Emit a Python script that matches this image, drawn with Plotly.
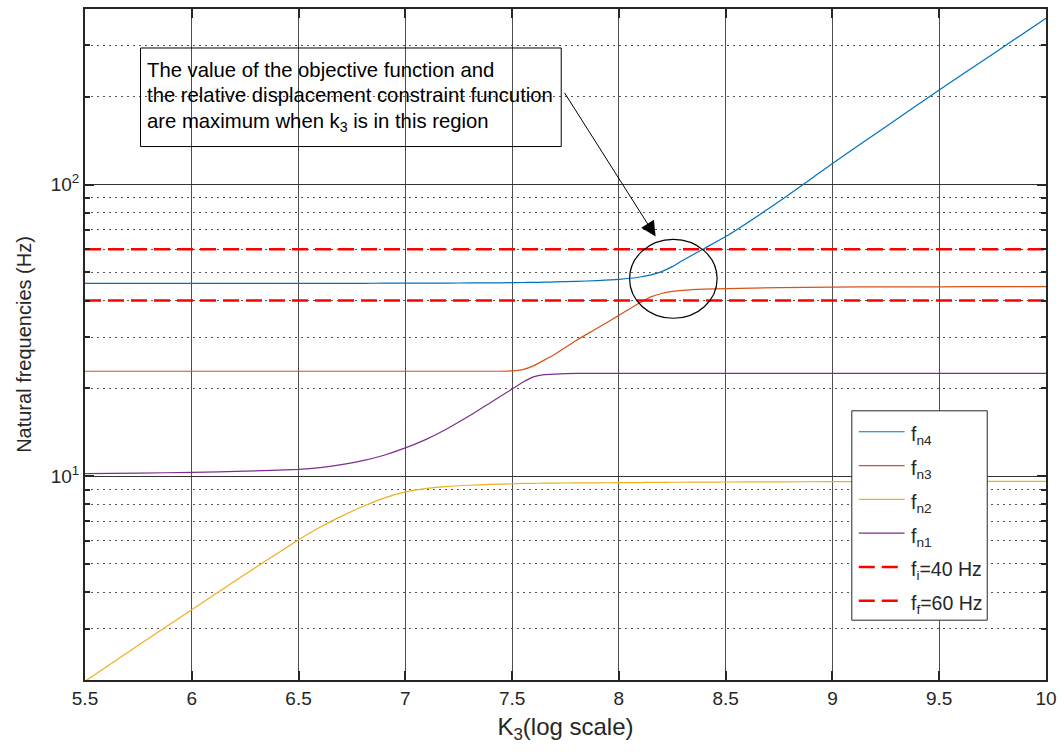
import math
import plotly.graph_objects as go

# log10(K3) sample positions
k3 = [5.5, 5.75, 6.0, 6.25, 6.5, 6.6, 6.7, 6.8, 6.9, 7.0, 7.1, 7.2, 7.3, 7.4, 7.5,
      7.55, 7.6, 7.65, 7.7, 7.8, 7.9, 8.0, 8.1, 8.15, 8.2, 8.25, 8.3, 8.4, 8.5,
      8.75, 9.0, 9.25, 9.5, 9.75, 10.0]

# natural frequencies (Hz)
fn4 = [45.8, 45.8, 45.8, 45.8, 45.8, 45.8, 45.85, 45.85, 45.9, 45.9, 45.9, 45.95, 46.0, 46.0, 46.1,
       46.15, 46.2, 46.25, 46.35, 46.55, 46.85, 47.3, 48.2, 49.0, 50.3, 52.3, 55.0, 60.4, 66.3,
       87.5, 118, 158, 211, 280, 372]
fn3 = [22.9, 22.9, 22.9, 22.9, 22.9, 22.9, 22.9, 22.9, 22.9, 22.9, 22.9, 22.9, 22.9, 22.9, 22.95,
       23.2, 23.9, 25.0, 26.2, 29.2, 32.2, 35.6, 39.4, 41.2, 42.3, 43.0, 43.4, 43.8, 44.0,
       44.3, 44.5, 44.6, 44.6, 44.7, 44.7]
fn2 = [1.98, 2.63, 3.48, 4.61, 6.05, 6.68, 7.28, 7.87, 8.41, 8.83, 9.08, 9.23, 9.31, 9.37, 9.42,
       9.44, 9.45, 9.46, 9.47, 9.48, 9.49, 9.5, 9.51, 9.52, 9.52, 9.53, 9.53, 9.54, 9.55,
       9.56, 9.58, 9.59, 9.6, 9.6, 9.6]
fn1 = [10.2, 10.25, 10.3, 10.4, 10.55, 10.7, 10.95, 11.3, 11.8, 12.5, 13.4, 14.6, 16.1, 17.9, 19.9,
       21.0, 21.9, 22.3, 22.4, 22.5, 22.5, 22.5, 22.5, 22.5, 22.5, 22.5, 22.5, 22.5, 22.5,
       22.5, 22.5, 22.5, 22.5, 22.5, 22.5]

# excitation band limits (Hz)
f_i = 40
f_f = 60

k3_ticks = [5.5, 6, 6.5, 7, 7.5, 8, 8.5, 9, 9.5, 10]
k3_tick_labels = ["5.5", "6", "6.5", "7", "7.5", "8", "8.5", "9", "9.5", "10"]
freq_ticks = [10, 100]
freq_tick_labels = ["10<sup>1</sup>", "10<sup>2</sup>"]
freq_minor = [2, 3, 4, 5, 6, 7, 8, 9, 20, 30, 40, 50, 60, 70, 80, 90, 200, 300, 400]

X_RANGE = [5.5, 10.0]
Y_RANGE = [math.log10(2), math.log10(400)]

W, H = 1064, 752
M_L, M_R, M_T, M_B = 85, 14, 7, 72
PLOT_W = W - M_L - M_R
PLOT_H = H - M_T - M_B

FONT = "Liberation Sans, Arial, Helvetica, sans-serif"
INK = "#262626"
RED = "#FF0000"
RED_DASH = "16px,7px"


def px_(k):
    return (k - X_RANGE[0]) / (X_RANGE[1] - X_RANGE[0])


def py_(f):
    return (math.log10(f) - Y_RANGE[0]) / (Y_RANGE[1] - Y_RANGE[0])


def pix_x(p):
    return (p - M_L) / PLOT_W


def pix_y(p):
    return (H - M_B - p) / PLOT_H


fig = go.Figure()

series = [
    (fn4, "f<sub>n4</sub>", "#0072BD"),
    (fn3, "f<sub>n3</sub>", "#D95319"),
    (fn2, "f<sub>n2</sub>", "#EDB120"),
    (fn1, "f<sub>n1</sub>", "#7E2F8E"),
]
for ys, name, color in series:
    fig.add_trace(go.Scatter(x=k3, y=ys, mode="lines", name=name, showlegend=False,
                             line=dict(color=color, width=1.2, shape="spline", smoothing=0.5)))

bands = [(f_i, "f<sub>i</sub>=40 Hz"), (f_f, "f<sub>f</sub>=60 Hz")]
for f, name in bands:
    fig.add_trace(go.Scatter(x=X_RANGE, y=[f, f], mode="lines", name=name, showlegend=False,
                             line=dict(color=RED, width=2.5, dash=RED_DASH)))

# outlined text box
fig.add_shape(type="rect", xref="paper", yref="paper",
              x0=px_(5.76), x1=px_(7.73), y0=py_(135), y1=py_(294),
              line=dict(color="black", width=1), fillcolor="rgba(0,0,0,0)")

note_lines = [
    ("The value of the objective function and", 68),
    ("the relative displacement constraint funcution", 93),
    ("are maximum when k<sub>3</sub> is in this region", 118),
]
for txt, row_y in note_lines:
    fig.add_annotation(xref="paper", yref="paper", x=pix_x(145), y=pix_y(row_y),
                       xanchor="left", yanchor="middle", text=txt, showarrow=False,
                       yshift=-3 if "<sub>" in txt else 0,
                       font=dict(family=FONT, size=20.3, color="black"), align="left")

# region marker
fig.add_shape(type="circle", xref="paper", yref="paper",
              x0=px_(8.05), x1=px_(8.46), y0=py_(34.8), y1=py_(64.9),
              line=dict(color="black", width=1.2))

fig.add_annotation(x=8.172, y=math.log10(66.4), xref="x", yref="y",
                   ax=-92, ay=-145, text="", showarrow=True,
                   arrowhead=2, arrowsize=3, arrowwidth=1, arrowcolor="black")

# legend panel
LEG_X0, LEG_X1, LEG_Y0, LEG_Y1 = 855, 991, 410, 620
LEG_ROW0, LEG_STEP = 431, 33.9
fig.add_shape(type="rect", xref="paper", yref="paper",
              x0=pix_x(LEG_X0), x1=pix_x(LEG_X1), y0=pix_y(LEG_Y1), y1=pix_y(LEG_Y0),
              line=dict(color=INK, width=1), fillcolor="white", layer="above")
legend_items = [(name, color, None, 908) for _, name, color in series] + \
               [(name, RED, RED_DASH, 903) for _, name in bands]
for i, (name, color, dash, x_end) in enumerate(legend_items):
    row_y = LEG_ROW0 + i * LEG_STEP
    fig.add_shape(type="line", xref="paper", yref="paper",
                  x0=pix_x(862), x1=pix_x(x_end), y0=pix_y(row_y), y1=pix_y(row_y),
                  line=dict(color=color, width=2.5 if dash else 1.2, dash=dash),
                  layer="above")
    fig.add_annotation(xref="paper", yref="paper", x=pix_x(912), y=pix_y(row_y),
                       xanchor="left", yanchor="middle", yshift=-4, text=name,
                       showarrow=False, font=dict(family=FONT, size=19.5, color=INK))

axis_common = dict(showline=True, linecolor=INK, linewidth=2, mirror="allticks",
                   ticks="inside", tickcolor=INK, tickwidth=1.5, ticklen=9,
                   tickfont=dict(family=FONT, size=19, color=INK),
                   zeroline=False)

fig.update_xaxes(range=X_RANGE, tickvals=k3_ticks, ticktext=k3_tick_labels,
                 showgrid=True, gridcolor="#4d4d4d", gridwidth=1,
                 title=dict(text="K<sub>3</sub>(log scale)", standoff=10,
                            font=dict(family=FONT, size=24, color=INK)),
                 **axis_common)
fig.update_yaxes(type="log", range=Y_RANGE, tickvals=freq_ticks, ticktext=freq_tick_labels,
                 showgrid=True, gridcolor="#333333", gridwidth=1,
                 minor=dict(tickvals=freq_minor, ticks="inside", ticklen=5, tickcolor=INK,
                            showgrid=True, gridcolor="#555555", griddash="2px,4px",
                            gridwidth=1),
                 title=dict(text="Natural frequencies (Hz)", standoff=14,
                            font=dict(family=FONT, size=20, color=INK)),
                 **axis_common)

fig.update_layout(
    width=W, height=H,
    margin=dict(l=M_L, r=M_R, t=M_T, b=M_B),
    paper_bgcolor="white", plot_bgcolor="white",
    font=dict(family=FONT, color=INK),
    showlegend=False,
)

fig.write_html("out.html")
